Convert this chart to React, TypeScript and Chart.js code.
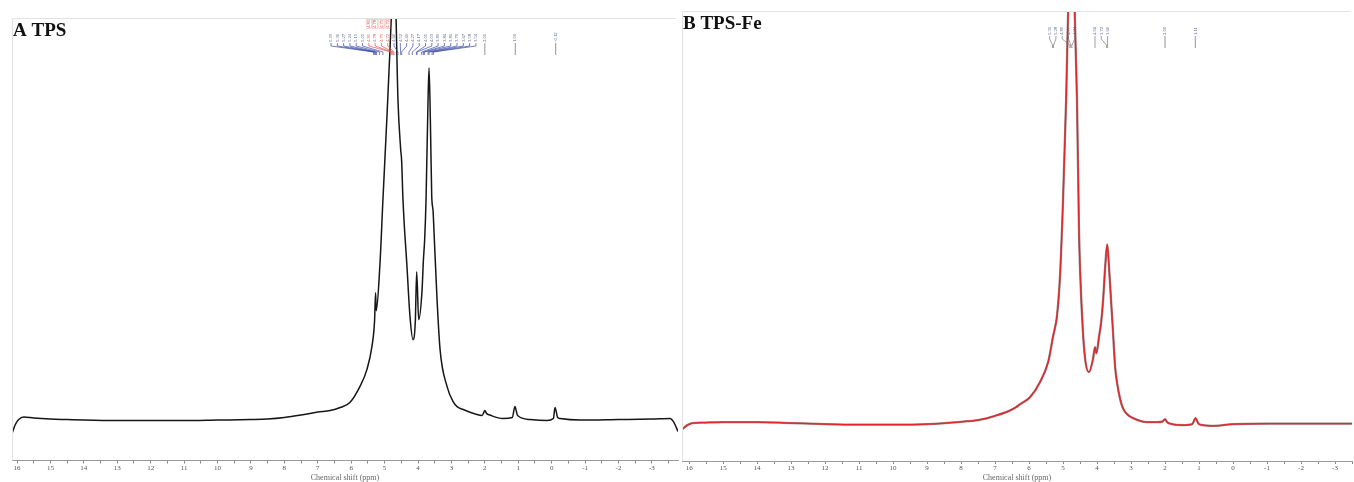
import React, { useEffect, useRef } from "react";
import { Chart, registerables } from "chart.js";

Chart.register(...registerables);

// ---------- Panel A: TPS (chemical shift in ppm, intensity in a.u.) ----------
const shiftA = [16.15, 16.05, 15.95, 15.8, 15.5, 15.0, 14.5, 14.0, 13.0, 12.0, 11.0, 10.0, 9.0, 8.5, 8.0, 7.5, 7.0, 6.63, 6.33, 6.04, 5.74, 5.53, 5.38, 5.3, 5.27, 5.25, 5.14, 5.05, 4.93, 4.84, 4.76, 4.72, 4.68, 4.6, 4.52, 4.49, 4.45, 4.33, 4.24, 4.15, 4.08, 4.04, 3.98, 3.88, 3.84, 3.8, 3.76, 3.7, 3.67, 3.63, 3.59, 3.55, 3.52, 3.43, 3.34, 3.13, 2.95, 2.83, 2.65, 2.24, 2.08, 2.0, 1.95, 1.85, 1.46, 1.18, 1.1, 1.02, 0.65, 0.14, -0.05, -0.1, -0.18, -0.25, -0.85, -2.0, -3.0, -3.54, -3.66, -3.78];
const intensityA = [27, 36, 41, 43.5, 42.5, 41.5, 41, 40.5, 40, 40, 40, 40.5, 41, 41.5, 43, 45.5, 48.5, 50, 53, 58, 74, 91, 114, 140, 168, 150, 196, 261, 344, 411, 470, 480, 470, 361, 312, 300, 261, 194, 144, 121, 140, 189, 141, 170, 200, 222, 261, 361, 393, 340, 265, 250, 228, 161, 111, 74, 59, 54, 51, 46, 45, 50, 47, 45.5, 42, 43, 54, 45, 41, 40, 42, 53, 43, 42, 40.5, 41, 41.5, 42, 38, 29];

// ---------- Panel B: TPS-Fe ----------
const shiftB = [16.2, 16.05, 15.9, 15.6, 15.0, 14.0, 13.0, 12.0, 11.0, 10.0, 9.0, 8.0, 7.5, 7.0, 6.6, 6.38, 6.26, 5.97, 5.68, 5.44, 5.34, 5.3, 5.26, 5.18, 5.09, 5.0, 4.91, 4.85, 4.78, 4.74, 4.68, 4.59, 4.53, 4.44, 4.35, 4.24, 4.12, 4.06, 4.02, 3.94, 3.88, 3.82, 3.76, 3.7, 3.65, 3.59, 3.53, 3.47, 3.41, 3.32, 3.24, 3.12, 2.94, 2.53, 2.24, 2.08, 2.0, 1.94, 1.8, 1.5, 1.2, 1.1, 1.02, 0.9, 0.55, 0.0, -1.0, -2.0, -3.0, -3.5];
const intensityB = [32, 36, 38, 38.5, 39, 39, 38, 37, 36.5, 36.5, 37, 39.3, 41, 45.3, 50, 54, 57, 64, 79, 99, 116, 124, 130, 145, 185, 262, 362, 452, 520, 525, 480, 362, 229, 145, 102, 89, 102, 114, 108, 125, 139, 162, 195, 217, 195, 162, 129, 95, 78, 62, 53, 47, 43, 39, 39, 39.5, 42, 39, 37, 36, 37, 43, 37.5, 36, 35.3, 37, 37.5, 37.5, 37.5, 37.5];

// ---------- Axis tick labels (ppm) ----------
const ppmTicks = [16, 15, 14, 13, 12, 11, 10, 9, 8, 7, 6, 5, 4, 3, 2, 1, 0, -1, -2, -3];

// ---------- Peak picking annotations ----------
const peakClusterA = [5.33, 5.3, 5.27, 5.24, 5.15, 5.05, 4.81, 4.78, 4.75, 4.72, 4.6, 4.52, 4.49, 4.27, 4.17, 4.05, 4.03, 3.89, 3.84, 3.81, 3.7, 3.67, 3.58, 3.54];
const peakHighlightA = [4.81, 4.78, 4.75, 4.72];
const peakSinglesA = [2.0, 1.09, -0.12];
const peakClusterB1 = [5.31, 5.28, 4.8, 4.77, 4.74];
const peakClusterB2 = [4.06, 3.72, 3.69];
const peakSinglesB = [2.0, 1.11];

type PanelCfg = {
  title: string;
  shifts: number[];
  values: number[];
  lineColor: string;
  underColor: string | null;
  lineWidth: number;
  xMin: number;
  xMax: number;
  yMax: number;
  pad: { left: number; right: number; top: number; bottom: number };
  titlePadTop: number;
  titleBaseline: number;
  clusters: number[][];
  highlight: number[];
  singles: number[];
  connColor: string;
  width: number;
  left: number;
};

function makeDecor(cfg: PanelCfg) {
  return {
    id: "panelDecor",
    afterDraw(chart: any) {
      const { ctx, chartArea } = chart;
      const xs = chart.scales.x;
      const top = chartArea.top;
      ctx.save();
      // frame (top + left)
      ctx.strokeStyle = "#e2e2e2";
      ctx.lineWidth = 1;
      ctx.beginPath();
      ctx.moveTo(chartArea.left + 0.5, chartArea.bottom);
      ctx.lineTo(chartArea.left + 0.5, top + 0.5);
      ctx.lineTo(chartArea.right - 2, top + 0.5);
      ctx.stroke();

      // panel title
      ctx.fillStyle = "#111";
      ctx.font = "bold 19px 'Liberation Serif', 'Times New Roman', serif";
      ctx.textAlign = "left";
      ctx.textBaseline = "alphabetic";
      ctx.fillText(cfg.title, chartArea.left + 1, top + cfg.titleBaseline);

      // peak labels
      const textBottom = top + 24;
      const y1 = top + 25;
      const y2 = top + 28;
      const y3 = top + 34;
      const y4 = top + 37;
      const spacing = 6.3;
      const drawLabel = (x: number, yb: number, v: number, color: string) => {
        ctx.save();
        ctx.translate(x, yb);
        ctx.rotate(-Math.PI / 2);
        ctx.fillStyle = color;
        ctx.font = "4.6px 'Liberation Serif', serif";
        ctx.textAlign = "left";
        ctx.textBaseline = "middle";
        ctx.fillText(v.toFixed(2), 0, 0);
        ctx.restore();
      };
      cfg.clusters.forEach((vals) => {
        const px = vals.map((v) => xs.getPixelForValue(v));
        const c = (Math.min(...px) + Math.max(...px)) / 2;
        const n = vals.length;
        vals.forEach((v, i) => {
          const lx = c + (i - (n - 1) / 2) * spacing;
          const hot = cfg.highlight.includes(v);
          const tc = hot ? "#d9534f" : "#505a80";
          drawLabel(lx, textBottom, v, tc);
          if (hot) {
            drawLabel(lx, top + 10, v, "#e0403c");
            ctx.strokeStyle = "rgba(230,90,90,0.45)";
            ctx.lineWidth = 0.6;
            ctx.strokeRect(lx - 2.6, top + 1.5, 5.2, 9);
          }
          ctx.strokeStyle = hot ? "#e0504c" : cfg.connColor;
          ctx.lineWidth = 0.7;
          ctx.beginPath();
          ctx.moveTo(lx, y1);
          ctx.lineTo(lx, y2);
          ctx.lineTo(px[i], y3);
          ctx.lineTo(px[i], y4);
          ctx.stroke();
        });
      });
      cfg.singles.forEach((v) => {
        const x = xs.getPixelForValue(v);
        drawLabel(x, textBottom, v, "#505a80");
        ctx.strokeStyle = "#666";
        ctx.lineWidth = 0.7;
        ctx.beginPath();
        ctx.moveTo(x, y1);
        ctx.lineTo(x, y4);
        ctx.stroke();
      });
      ctx.restore();
    },
  };
}

function Panel({ cfg }: { cfg: PanelCfg }) {
  const ref = useRef<HTMLCanvasElement | null>(null);
  useEffect(() => {
    if (!ref.current) return;
    const pts = cfg.shifts.map((s, i) => ({ x: s, y: cfg.values[i] }));
    const datasets: any[] = [
      {
        data: pts,
        borderColor: cfg.lineColor,
        borderWidth: cfg.lineWidth,
        pointRadius: 0,
        cubicInterpolationMode: "monotone",
        fill: false,
      },
    ];
    if (cfg.underColor) {
      datasets.push({
        data: pts,
        borderColor: cfg.underColor,
        borderWidth: cfg.lineWidth + 1,
        pointRadius: 0,
        cubicInterpolationMode: "monotone",
        fill: false,
      });
    }
    const chart = new Chart(ref.current, {
      type: "line",
      data: { datasets },
      options: {
        animation: false,
        responsive: false,
        events: [],
        layout: { padding: cfg.pad },
        plugins: { legend: { display: false }, tooltip: { enabled: false }, title: { display: false } },
        scales: {
          x: {
            type: "linear",
            reverse: true,
            min: cfg.xMin,
            max: cfg.xMax,
            afterBuildTicks: (scale: any) => {
              const t: any[] = [];
              ppmTicks.forEach((v) => {
                t.push({ value: v });
                if (v - 0.5 >= cfg.xMin) t.push({ value: v - 0.5 });
              });
              t.sort((a, b) => a.value - b.value);
              scale.ticks = t;
            },
            ticks: {
              autoSkip: false,
              maxRotation: 0,
              padding: 1,
              color: "#555",
              font: { family: "'Liberation Serif', serif", size: 7, lineHeight: 1 },
              callback: (v: any) => (Number.isInteger(v) ? String(v) : ""),
            },
            grid: { drawOnChartArea: false, drawTicks: true, tickLength: 3, color: "#8a8a8a" },
            border: { display: true, color: "#9a9a9a", width: 1 },
            title: {
              display: true,
              text: "Chemical shift (ppm)",
              color: "#666",
              font: { family: "'Liberation Serif', serif", size: 8, lineHeight: 1 },
              padding: { top: cfg.titlePadTop, bottom: 0 },
            },
          },
          y: { display: false, min: 0, max: cfg.yMax },
        },
      },
      plugins: [makeDecor(cfg)],
    });
    return () => chart.destroy();
  }, [cfg]);
  return (
    <canvas
      ref={ref}
      width={cfg.width}
      height={482}
      style={{ position: "absolute", left: cfg.left, top: 0, display: "block" }}
    />
  );
}

const cfgA: PanelCfg = {
  title: "A TPS",
  shifts: shiftA,
  values: intensityA,
  lineColor: "#161616",
  underColor: null,
  lineWidth: 1.5,
  xMin: -3.78,
  xMax: 16.15,
  yMax: 443,
  pad: { left: 12, right: 2, top: 18, bottom: 0 },
  titlePadTop: 1.5,
  titleBaseline: 18,
  clusters: [peakClusterA],
  highlight: peakHighlightA,
  singles: peakSinglesA,
  connColor: "#3a4aa8",
  width: 680,
  left: 0,
};

const cfgB: PanelCfg = {
  title: "B TPS-Fe",
  shifts: shiftB,
  values: intensityB,
  lineColor: "#e3262b",
  underColor: "rgba(80,20,20,0.55)",
  lineWidth: 1.3,
  xMin: -3.5,
  xMax: 16.21,
  yMax: 451,
  pad: { left: 2, right: 2, top: 11, bottom: 0 },
  titlePadTop: 1,
  titleBaseline: 18,
  clusters: [peakClusterB1, peakClusterB2],
  highlight: [],
  singles: peakSinglesB,
  connColor: "#777",
  width: 674,
  left: 680,
};

export default function App() {
  return (
    <div style={{ position: "fixed", left: 0, top: 0, width: 1354, height: 482, background: "#fff", overflow: "hidden" }}>
      <Panel cfg={cfgA} />
      <Panel cfg={cfgB} />
    </div>
  );
}
